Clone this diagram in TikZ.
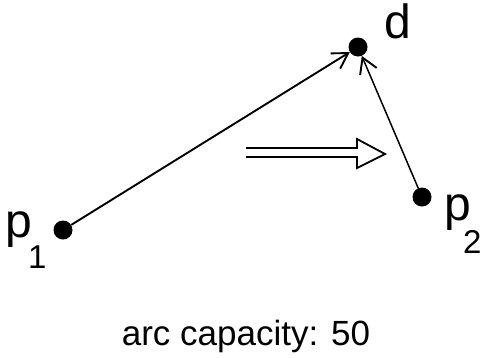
\documentclass[tikz,border=0pt]{standalone}
\usepackage{fontspec}
\setmainfont{Liberation Sans}
\usetikzlibrary{arrows.meta}
\begin{document}
\begin{tikzpicture}[x=1pt,y=-1pt,
  dot/.style={circle,fill=black,inner sep=0pt,minimum size=19pt},
  lbl/.style={inner sep=0pt,anchor=base west,font=\fontsize{48}{48}\selectfont},
  sub/.style={inner sep=0pt,anchor=base west,font=\fontsize{33}{33}\selectfont},
  arc/.style={line width=1.9pt,-{Straight Barb[length=15pt,width=18pt,line width=1.9pt]}}]
\useasboundingbox (0,0) rectangle (484,357);
\node[dot] (d) at (358,47) {};
\node[dot] (p1) at (63,230) {};
\node[dot] (p2) at (422,197) {};
\draw[arc] (p1) -- (d);
\draw[arc,line width=1.5pt] (p2) -- (d);
\node[lbl] (ld) at (384,38) {d};
\node[lbl] (lp1) at (5,237) {p};
\node[sub] (ls1) at (28,268) {1};
\node[lbl] (lp2) at (444,220) {p};
\node[sub] (ls2) at (463,253) {2};
\draw[line width=1.8pt,line join=miter] (246,148) -- (357,148) -- (357,139) -- (385,154) -- (357,168) -- (357,157) -- (246,157);
\node[inner sep=0pt,anchor=base,font=\fontsize{35}{35}\selectfont] (cap) at (246,345) {arc capacity: 50};
\end{tikzpicture}
\end{document}
